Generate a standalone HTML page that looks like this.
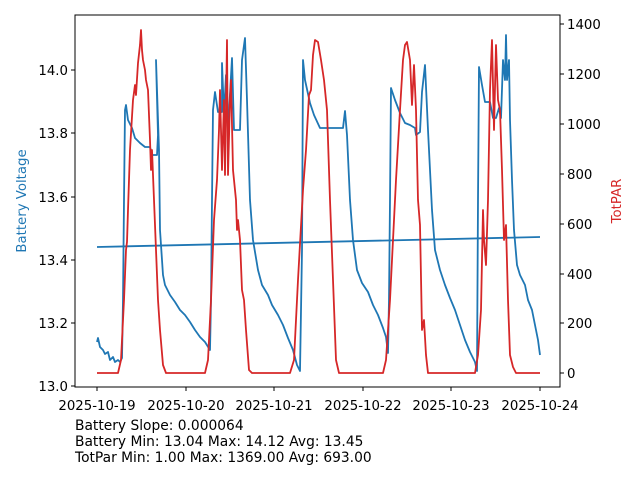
<!DOCTYPE html>
<html><head><style>body{margin:0;background:#fff}svg{display:block}</style></head><body>
<svg width="640" height="480" xmlns="http://www.w3.org/2000/svg" font-family="DejaVu Sans, Liberation Sans, sans-serif" font-size="13.3">
<rect width="640" height="480" fill="#fff"/>
<g fill="none" stroke-linejoin="round" stroke-width="1.8">
<polyline stroke="#1f77b4" points="97,247 540,237"/>
<polyline stroke="#1f77b4" points="97,342 98,338 100,347 103,350 105,354 108,352 110,360 113,357 115,362 118,360 120,362 122,358 123,300 124,200 125,110 126,105 128,120 132,128 135,138 140,143 145,147 150,147 152,155 157,155 158,135 156,60 157,90 159,150 160,230 163,275 165,285 170,295 175,302 180,310 185,315 190,322 195,330 200,337 205,342 210,350 211,300 212,200 213,110 215,92 218,112 222,112 222,63 224,115 226,75 228,130 232,58 234,130 240,130 242,60 245,38 247,100 250,200 253,240 258,270 262,285 268,295 272,305 278,315 283,325 288,338 293,350 297,365 300,371 302,250 303,60 305,80 310,103 314,115 320,128 340,128 343,128 345,111 347,135 350,200 353,240 357,270 362,283 368,292 373,305 378,315 383,328 386,337 388,353 389,300 390,200 391,88 395,100 400,113 405,123 410,125 415,128 416,135 420,132 422,92 425,65 428,130 432,210 435,250 440,270 445,285 450,298 455,310 460,325 465,340 470,352 475,362 477,371 478,200 479,67 482,85 485,102 490,102 493,118 496,118 499,108 501,118 503,60 505,80 506,35 507,80 509,60 510,120 512,180 514,230 517,265 520,275 525,285 528,300 532,310 535,325 538,340 540,355"/>
<polyline stroke="#d62728" points="97,373 118,373 121,360 124,300 126,250 127,242 128,210 130,150 133,100 135,85 136,95 138,63 140,45 141,30 142,50 143,60 145,70 146,80 148,90 150,140 151,170 152,150 154,200 156,250 158,300 160,330 163,365 166,373 205,373 208,360 211,300 214,220 217,180 219,130 220,90 222,170 224,100 225,175 227,40 228,175 230,100 231,80 233,170 236,200 237,230 238,220 240,240 242,290 244,300 246,330 249,370 252,373 290,373 294,360 298,280 303,190 306,150 309,95 311,90 313,55 315,40 318,42 321,60 324,80 327,110 330,200 333,280 336,360 339,373 383,373 386,360 390,300 393,240 396,180 400,110 403,60 405,45 407,42 410,60 412,105 414,65 416,110 418,200 420,225 422,330 424,320 426,355 428,373 475,373 478,355 481,310 483,210 484,240 486,265 488,200 490,90 492,40 494,130 496,45 498,100 500,110 502,170 504,240 506,225 508,300 510,355 513,367 516,373 540,373"/>
</g>
<rect x="75" y="15" width="485" height="372" fill="none" stroke="#000" stroke-width="1"/>
<g stroke="#000">
<line x1="75" x2="71" y1="386" y2="386"/><line x1="75" x2="71" y1="323" y2="323"/><line x1="75" x2="71" y1="260" y2="260"/><line x1="75" x2="71" y1="197" y2="197"/><line x1="75" x2="71" y1="133" y2="133"/><line x1="75" x2="71" y1="70" y2="70"/>
<line x1="560" x2="564" y1="373" y2="373"/><line x1="560" x2="564" y1="323" y2="323"/><line x1="560" x2="564" y1="274" y2="274"/><line x1="560" x2="564" y1="224" y2="224"/><line x1="560" x2="564" y1="174" y2="174"/><line x1="560" x2="564" y1="124" y2="124"/><line x1="560" x2="564" y1="74" y2="74"/><line x1="560" x2="564" y1="24" y2="24"/>
<line x1="97" x2="97" y1="387" y2="391"/><line x1="186" x2="186" y1="387" y2="391"/><line x1="274" x2="274" y1="387" y2="391"/><line x1="363" x2="363" y1="387" y2="391"/><line x1="451" x2="451" y1="387" y2="391"/><line x1="540" x2="540" y1="387" y2="391"/>
</g>
<g text-anchor="end">
<text x="68" y="391">13.0</text><text x="68" y="328">13.2</text><text x="68" y="265">13.4</text><text x="68" y="202">13.6</text><text x="68" y="138">13.8</text><text x="68" y="75">14.0</text>
</g>
<g>
<text x="567" y="378">0</text><text x="567" y="328">200</text><text x="567" y="279">400</text><text x="567" y="229">600</text><text x="567" y="179">800</text><text x="567" y="129">1000</text><text x="567" y="79">1200</text><text x="567" y="29">1400</text>
</g>
<g text-anchor="middle">
<text x="97" y="410">2025-10-19</text><text x="186" y="410">2025-10-20</text><text x="274" y="410">2025-10-21</text><text x="363" y="410">2025-10-22</text><text x="451" y="410">2025-10-23</text><text x="540" y="410">2025-10-24</text>
</g>
<text transform="translate(26,201) rotate(-90)" text-anchor="middle" fill="#1f77b4">Battery Voltage</text>
<text transform="translate(621,201) rotate(-90)" text-anchor="middle" fill="#d62728">TotPAR</text>
<g font-size="13.8">
<text x="75" y="430">Battery Slope: 0.000064</text>
<text x="75" y="446">Battery Min: 13.04 Max: 14.12 Avg: 13.45</text>
<text x="75" y="462">TotPar Min: 1.00 Max: 1369.00 Avg: 693.00</text>
</g>
</svg>
</body></html>
